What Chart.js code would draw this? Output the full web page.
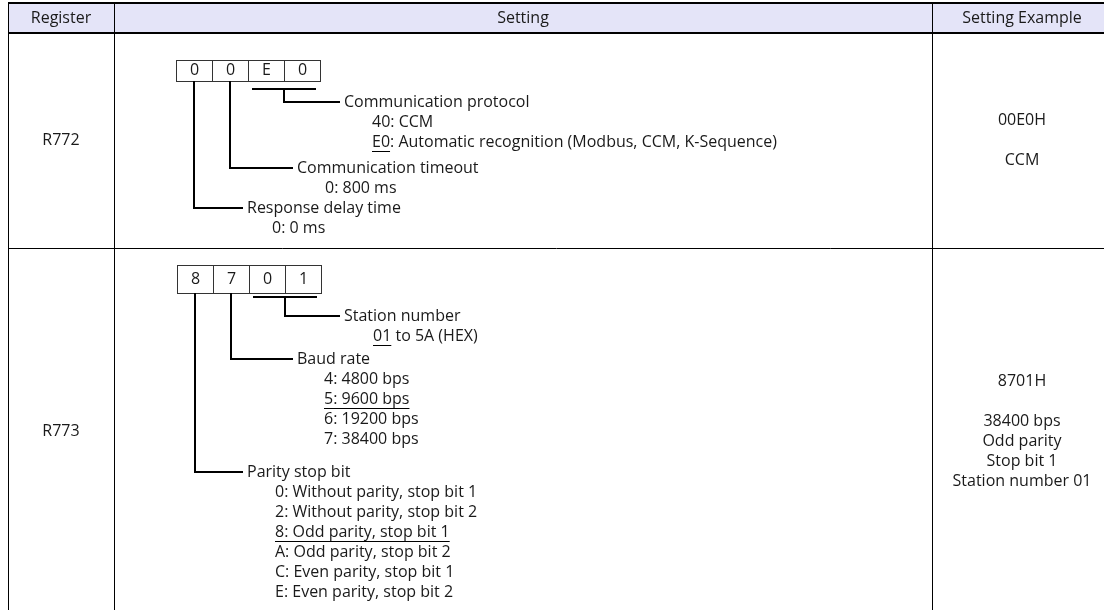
<!DOCTYPE html>
<html>
<head>
<meta charset="utf-8">
<script src="https://cdn.jsdelivr.net/npm/chart.js@4.4.1/dist/chart.umd.min.js"></script>
<style>
  body { margin: 0; background: #fff; }
</style>
</head>
<body>
<canvas id="chart_table" width="1104" height="610"></canvas>
<script>
const headers = ['Register', 'Setting', 'Setting Example'];
const registers = ['R772', 'R773'];
const digits772 = ['0', '0', 'E', '0'];
const digits773 = ['8', '7', '0', '1'];
const examples772 = ['00E0H', '', 'CCM'];
const examples773 = ['8701H', '', '38400 bps', 'Odd parity', 'Stop bit 1', 'Station number 01'];

// [text, number of leading chars underlined (-1 = whole line)]
const protocolItems = [['40: CCM', 0], ['E0: Automatic recognition (Modbus, CCM, K-Sequence)', 2]];
const timeoutItems = [['0: 800 ms', 0]];
const delayItems = [['0: 0 ms', 0]];
const stationItems = [['01 to 5A (HEX)', 2]];
const baudItems = [['4: 4800 bps', 0], ['5: 9600 bps', -1], ['6: 19200 bps', 0], ['7: 38400 bps', 0]];
const parityItems = [
  ['0: Without parity, stop bit 1', 0],
  ['2: Without parity, stop bit 2', 0],
  ['8: Odd parity, stop bit 1', -1],
  ['A: Odd parity, stop bit 2', 0],
  ['C: Even parity, stop bit 1', 0],
  ['E: Even parity, stop bit 2', 0]
];

const fields772 = [
  { from: 2, to: 3, title: 'Communication protocol', items: protocolItems },
  { from: 1, to: 1, title: 'Communication timeout', items: timeoutItems },
  { from: 0, to: 0, title: 'Response delay time', items: delayItems }
];
const fields773 = [
  { from: 2, to: 3, title: 'Station number', items: stationItems },
  { from: 1, to: 1, title: 'Baud rate', items: baudItems },
  { from: 0, to: 0, title: 'Parity stop bit', items: parityItems }
];

// layout
const colX = [8, 114, 932, 1112];
const rowY = [3, 33, 248, 615];
const cellW = 36;
const lineH = 20;
const rows = [
  { digits: digits772, fields: fields772, examples: examples772, boxX: 176, boxTop: 60, boxH: 21, under: 89, labelY: [102, 168, 208], indent: [28, 28, 25] },
  { digits: digits773, fields: fields773, examples: examples773, boxX: 177, boxTop: 265, boxH: 28, under: 297, labelY: [316, 359, 472], indent: [29, 27, 28] }
];
const labelX = [247, 297, 344];
const font = '16px "Open Sans", "Noto Sans", sans-serif';

const tablePlugin = {
  id: 'tablePlugin',
  afterDraw(chart) {
    const c = chart.ctx;
    const sx = chart.scales.x, sy = chart.scales.y;
    const px = v => sx.getPixelForValue(v);
    const py = v => sy.getPixelForValue(v);
    const hline = (x1, x2, y, w) => {
      c.lineWidth = w;
      const o = w % 2 ? 0.5 : 0;
      c.beginPath(); c.moveTo(px(x1), Math.round(py(y)) + o); c.lineTo(px(x2), Math.round(py(y)) + o); c.stroke();
    };
    const vline = (x, y1, y2, w) => {
      c.lineWidth = w;
      const o = w % 2 ? 0.5 : 0;
      c.beginPath(); c.moveTo(Math.round(px(x)) + o, py(y1)); c.lineTo(Math.round(px(x)) + o, py(y2)); c.stroke();
    };
    c.save();
    // header background
    c.fillStyle = '#e4e4f8';
    c.fillRect(px(colX[0]), py(rowY[0]), px(colX[3]) - px(colX[0]), py(rowY[1]) - py(rowY[0]));

    c.strokeStyle = '#000';
    hline(colX[0], colX[3], rowY[0], 2);
    hline(colX[0], colX[3], rowY[1], 2);
    hline(colX[0], colX[3], rowY[2], 1);
    for (let i = 0; i < 3; i++) vline(colX[i], rowY[0], rowY[3], 1);

    c.font = font;
    c.fillStyle = '#1a1a1a';
    c.textBaseline = 'middle';
    c.textAlign = 'center';
    headers.forEach((h, i) => {
      c.fillText(h, (px(colX[i]) + px(colX[i + 1])) / 2, (py(rowY[0]) + py(rowY[1])) / 2);
    });

    rows.forEach((r, ri) => {
      const top = rowY[ri + 1], bottom = rowY[ri + 2];
      const mid = (py(top) + py(bottom)) / 2;
      c.textAlign = 'center';
      c.fillStyle = '#1a1a1a';
      c.fillText(registers[ri], (px(colX[0]) + px(colX[1])) / 2, mid);
      const ex = r.examples;
      const exTop = mid - (ex.length - 1) * lineH / 2;
      ex.forEach((t, i) => c.fillText(t, (px(colX[2]) + px(colX[3])) / 2, exTop + i * lineH));

      // digit boxes
      c.strokeStyle = '#333';
      c.lineWidth = 1;
      r.digits.forEach((d, i) => {
        const x = Math.round(px(r.boxX + i * cellW)) + 0.5;
        c.strokeRect(x, Math.round(py(r.boxTop)) + 0.5, cellW, py(r.boxTop + r.boxH) - py(r.boxTop));
        c.fillText(d, x + cellW / 2, py(r.boxTop + r.boxH / 2));
      });

      // leaders and descriptions
      c.strokeStyle = '#000';
      c.textAlign = 'left';
      r.fields.forEach((f, fi) => {
        const x1 = r.boxX + f.from * cellW, x2 = r.boxX + (f.to + 1) * cellW;
        const stemX = (x1 + x2) / 2;
        let stemTop = r.boxTop + r.boxH;
        if (f.to > f.from) {
          hline(x1 + 4, x2 - 4, r.under, 2);
          stemTop = r.under;
        }
        const ly = r.labelY[fi];
        const lx = labelX[f.from];
        vline(stemX, stemTop, ly + 1, 2);
        hline(stemX - 1, lx - 4, ly, 2);
        c.fillText(f.title, px(lx), py(ly));
        f.items.forEach(([t, u], k) => {
          const iy = py(ly + (k + 1) * lineH);
          const ix = px(lx + r.indent[fi]);
          c.fillText(t, ix, iy);
          if (u !== 0) {
            const w = c.measureText(u < 0 ? t : t.slice(0, u)).width;
            c.lineWidth = 1;
            c.beginPath();
            c.moveTo(ix, Math.round(iy + 9) + 0.5);
            c.lineTo(ix + w, Math.round(iy + 9) + 0.5);
            c.stroke();
          }
        });
      });
    });
    c.restore();
  }
};

new Chart(document.getElementById('chart_table'), {
  type: 'scatter',
  data: { datasets: [] },
  options: {
    responsive: false,
    animation: false,
    events: [],
    layout: { padding: 0 },
    plugins: { legend: { display: false }, tooltip: { enabled: false } },
    scales: {
      x: { type: 'linear', min: 0, max: 1104, display: false },
      y: { type: 'linear', min: 0, max: 610, reverse: true, display: false }
    }
  },
  plugins: [tablePlugin]
});
</script>
</body>
</html>
